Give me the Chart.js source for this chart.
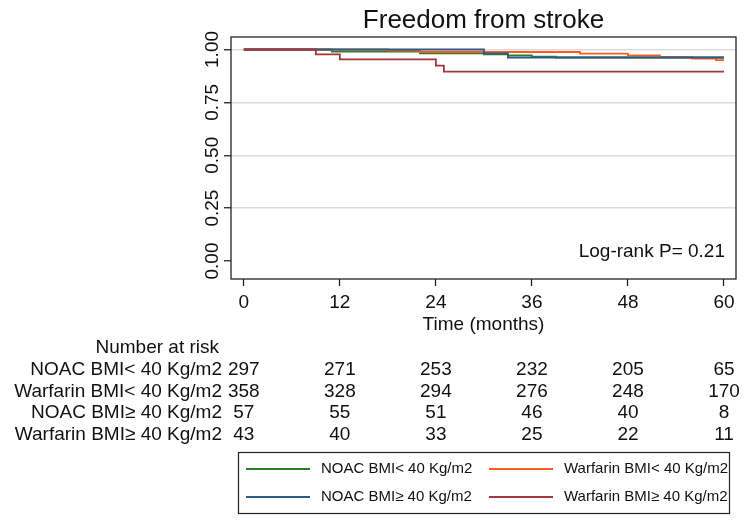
<!DOCTYPE html>
<html>
<head>
<meta charset="utf-8">
<script src="https://cdn.jsdelivr.net/npm/chart.js@4"></script>
<style>
  html, body { margin: 0; padding: 0; background: #fff; }
  #wrap { width: 750px; height: 525px; }
</style>
</head>
<body>
<div id="wrap"><canvas id="km" width="750" height="525"></canvas></div>
<script>
// Kaplan-Meier: freedom from stroke

const timeTicks = [0, 12, 24, 36, 48, 60];
const survTicks = [0, 0.25, 0.5, 0.75, 1];
const groupLabels = ['NOAC BMI< 40 Kg/m2', 'Warfarin BMI< 40 Kg/m2', 'NOAC BMI\u2265 40 Kg/m2', 'Warfarin BMI\u2265 40 Kg/m2'];
const groupColors = ['#2a7d2a', '#ff5a22', '#2d5a88', '#a0363e'];

// step curves (months, survival)
const noacLowT = [0, 11, 22, 30, 33, 36, 39, 60];
const noacLowS = [1, 0.99, 0.982, 0.977, 0.972, 0.966, 0.962, 0.962];
const warfLowT = [0, 18, 22, 42, 48, 52, 56, 59, 60];
const warfLowS = [1, 0.995, 0.988, 0.98, 0.972, 0.965, 0.957, 0.95, 0.95];
const noacHighT = [0, 30, 33, 60];
const noacHighS = [1, 0.981, 0.962, 0.962];
const warfHighT = [0, 9, 12, 24, 25, 60];
const warfHighS = [1, 0.977, 0.953, 0.924, 0.895, 0.895];

// number at risk at timeTicks
const riskNoacLow = [297, 271, 253, 232, 205, 65];
const riskWarfLow = [358, 328, 294, 276, 248, 170];
const riskNoacHigh = [57, 55, 51, 46, 40, 8];
const riskWarfHigh = [43, 40, 33, 25, 22, 11];

const logRankText = 'Log-rank P= 0.21';

const FONT = '"Liberation Sans", Arial, sans-serif';

function toPoints(ts, ss) {
    return ts.map((t, i) => ({ x: t, y: ss[i] }));
}

const curves = [
    toPoints(noacLowT, noacLowS),
    toPoints(warfLowT, warfLowS),
    toPoints(noacHighT, noacHighS),
    toPoints(warfHighT, warfHighS)
];
const riskRows = [riskNoacLow, riskWarfLow, riskNoacHigh, riskWarfHigh];
const drawOrder = [3, 2, 1, 0];

const decor = {
    id: 'decor',
    afterDraw(chart) {
        const ctx = chart.ctx;
        const a = chart.chartArea;
        const xs = chart.scales.x;
        const ys = chart.scales.y;
        ctx.save();

        // plot frame
        ctx.strokeStyle = '#222';
        ctx.lineWidth = 1.3;
        ctx.strokeRect(a.left, a.top, a.right - a.left, a.bottom - a.top);

        ctx.fillStyle = '#111';

        // title
        ctx.font = '26px ' + FONT;
        ctx.textAlign = 'center';
        ctx.textBaseline = 'alphabetic';
        ctx.fillText('Freedom from stroke', (a.left + a.right) / 2, 28);

        // y tick labels, rotated
        ctx.font = '19px ' + FONT;
        survTicks.forEach(v => {
            ctx.save();
            ctx.translate(217.5, ys.getPixelForValue(v));
            ctx.rotate(-Math.PI / 2);
            ctx.textAlign = 'center';
            ctx.textBaseline = 'alphabetic';
            ctx.fillText(v.toFixed(2), 0, 0);
            ctx.restore();
        });

        // x tick labels
        ctx.textAlign = 'center';
        ctx.textBaseline = 'middle';
        timeTicks.forEach(t => ctx.fillText(String(t), xs.getPixelForValue(t), 303));
        ctx.fillText('Time (months)', (a.left + a.right) / 2, 325);

        // log-rank
        ctx.textAlign = 'right';
        ctx.fillText(logRankText, xs.getPixelForValue(60) + 1, 252);

        // number at risk
        const rowY = [370, 391.5, 413, 434.5];
        ctx.textAlign = 'right';
        ctx.fillText('Number at risk', 219, 348);
        riskRows.forEach((row, r) => {
            ctx.textAlign = 'right';
            ctx.fillText(groupLabels[r], 222, rowY[r]);
            ctx.textAlign = 'center';
            row.forEach((n, i) => ctx.fillText(String(n), xs.getPixelForValue(timeTicks[i]), rowY[r]));
        });

        // legend
        ctx.strokeStyle = '#222';
        ctx.lineWidth = 1.2;
        ctx.strokeRect(238.5, 452.5, 491, 61);
        const legPos = [
            { lx: 246, tx: 321, y: 469 },
            { lx: 489, tx: 564, y: 469 },
            { lx: 246, tx: 321, y: 497 },
            { lx: 489, tx: 564, y: 497 }
        ];
        ctx.font = '15px ' + FONT;
        ctx.textAlign = 'left';
        legPos.forEach((p, i) => {
            ctx.strokeStyle = groupColors[i];
            ctx.lineWidth = 2;
            ctx.beginPath();
            ctx.moveTo(p.lx, p.y);
            ctx.lineTo(p.lx + 64, p.y);
            ctx.stroke();
            ctx.fillText(groupLabels[i], p.tx, p.y);
        });

        ctx.restore();
    }
};

new Chart(document.getElementById('km'), {
    type: 'line',
    data: {
        datasets: curves.map((pts, i) => ({
            label: groupLabels[i],
            data: pts,
            borderColor: groupColors[i],
            borderWidth: 1.8,
            stepped: true,
            pointRadius: 0,
            fill: false,
            order: drawOrder[i]
        }))
    },
    options: {
        responsive: false,
        animation: false,
        layout: { padding: { left: 231, right: 14, top: 37, bottom: 246 } },
        plugins: {
            legend: { display: false },
            tooltip: { enabled: false },
            title: { display: false }
        },
        scales: {
            x: {
                type: 'linear',
                min: -1.6,
                max: 61.5,
                afterFit(scale) { scale.height = 0; },
                afterBuildTicks(scale) { scale.ticks = timeTicks.map(v => ({ value: v })); },
                ticks: { display: false },
                border: { display: false },
                grid: { drawOnChartArea: false, tickLength: 7, tickColor: '#222', tickWidth: 1.3 }
            },
            y: {
                type: 'linear',
                min: -0.085,
                max: 1.059,
                afterFit(scale) { scale.width = 0; },
                afterBuildTicks(scale) { scale.ticks = survTicks.map(v => ({ value: v })); },
                ticks: { display: false },
                border: { display: false },
                grid: {
                    color: c => (c.tick && c.tick.value === 0) ? 'rgba(0,0,0,0)' : '#dcdcdc',
                    lineWidth: 1.5,
                    tickLength: 7,
                    tickColor: '#222',
                    tickWidth: 1.3
                }
            }
        }
    },
    plugins: [decor]
});
</script>
</body>
</html>
